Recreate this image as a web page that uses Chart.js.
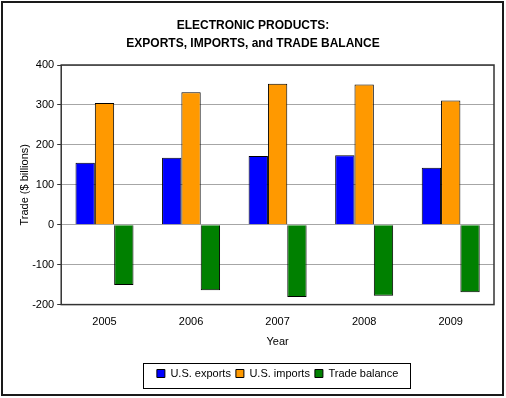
<!DOCTYPE html>
<html>
<head>
<meta charset="utf-8">
<script src="https://cdn.jsdelivr.net/npm/chart.js@4/dist/chart.umd.min.js"></script>
<style>
html,body{margin:0;padding:0;background:#fff;}
#wrap{width:506px;height:398px;position:relative;}
</style>
</head>
<body>
<div id="wrap"><canvas id="c" width="506" height="398"></canvas></div>
<script>
const years = ['2005', '2006', '2007', '2008', '2009'];
const usExports = [155, 168, 172, 174, 143];
const usImports = [305, 332, 353, 351, 311];
const tradeBalance = [-151, -164, -181, -178, -169];
const yTicks = [-200, -100, 0, 100, 200, 300, 400];
const titleLines = ['ELECTRONIC PRODUCTS:', 'EXPORTS, IMPORTS, and TRADE BALANCE'];

const framePlugin = {
  id: 'frames',
  afterDatasetsDraw(chart) {
    const ctx = chart.ctx;
    const a = chart.chartArea;
    ctx.save();
    ctx.strokeStyle = '#333';
    ctx.lineWidth = 1.5;
    ctx.strokeRect(a.left, a.top, a.right - a.left, a.bottom - a.top);
    ctx.restore();
  },
  afterDraw(chart) {
    const ctx = chart.ctx;
    ctx.save();
    ctx.strokeStyle = '#1a1a1a';
    ctx.lineWidth = 2;
    ctx.strokeRect(2, 2, 501, 393);
    const lg = chart.legend;
    if (lg && lg.legendHitBoxes && lg.legendHitBoxes.length) {
      let minX = Infinity, maxX = -Infinity;
      lg.legendHitBoxes.forEach(h => { minX = Math.min(minX, h.left); maxX = Math.max(maxX, h.left + h.width); });
      ctx.strokeStyle = '#000';
      ctx.lineWidth = 1;
      ctx.strokeRect(Math.round(minX - 14) + 0.5, Math.round(lg.top) + 0.5, Math.round(maxX - minX + 26), Math.round(lg.height) - 1);
    }
    ctx.restore();
  }
};

new Chart(document.getElementById('c'), {
  type: 'bar',
  data: {
    labels: years,
    datasets: [
      { label: 'U.S. exports', data: usExports, backgroundColor: '#0000ff', borderColor: '#000', borderWidth: 1 },
      { label: 'U.S. imports', data: usImports, backgroundColor: '#ff9900', borderColor: '#000', borderWidth: 1 },
      { label: 'Trade balance', data: tradeBalance, backgroundColor: '#008000', borderColor: '#000', borderWidth: 1 }
    ]
  },
  options: {
    responsive: false,
    animation: false,
    devicePixelRatio: 1,
    layout: { padding: { left: 12, right: 12, top: 0, bottom: 9 } },
    datasets: { bar: { categoryPercentage: 0.67, barPercentage: 1.0 } },
    scales: {
      x: {
        grid: { display: false, drawTicks: false },
        border: { display: false },
        ticks: { color: '#000', font: { family: 'Liberation Sans, Arial', size: 11 }, padding: 11 },
        title: { display: true, text: 'Year', color: '#000', font: { family: 'Liberation Sans, Arial', size: 11 }, padding: { top: -4, bottom: 14 } }
      },
      y: {
        min: -200, max: 400,
        afterBuildTicks(scale) { scale.ticks = yTicks.map(v => ({ value: v })); },
        grid: { color: '#a6a6a6', lineWidth: 1, tickLength: 4, tickColor: '#333', drawTicks: true },
        border: { display: false },
        ticks: { color: '#000', font: { family: 'Liberation Sans, Arial', size: 11 }, padding: 3 },
        title: { display: true, text: 'Trade ($ billions)', color: '#000', font: { family: 'Liberation Sans, Arial', size: 11 }, padding: { top: 6, bottom: -2 } }
      }
    },
    plugins: {
      title: {
        display: true,
        text: titleLines,
        color: '#000',
        font: { family: 'Liberation Sans, Arial', size: 12, weight: 'bold', lineHeight: 1.5 },
        padding: { top: 17, bottom: 12 }
      },
      legend: {
        position: 'bottom',
        fullSize: false,
        labels: {
          color: '#000',
          font: { family: 'Liberation Sans, Arial', size: 11 },
          boxWidth: 8, boxHeight: 8,
          padding: 5
        }
      },
      tooltip: { enabled: false }
    }
  },
  plugins: [framePlugin]
});
</script>
</body>
</html>
